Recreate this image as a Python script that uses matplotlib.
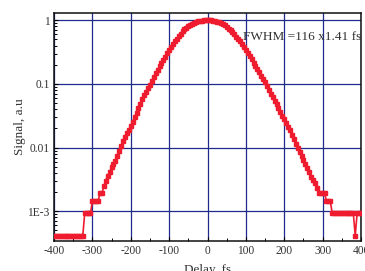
import numpy as np
import matplotlib
matplotlib.use('Agg')
import matplotlib.pyplot as plt
from matplotlib.ticker import FixedLocator, FixedFormatter, LogLocator, MultipleLocator

plt.rcParams['font.family'] = ['Liberation Serif', 'DejaVu Serif']
plt.rcParams['axes.unicode_minus'] = False

# delay, fs (5 fs steps from -400 to 400)
delay = np.arange(-400, 401, 5)

# log10 of the signal
log_signal = [
    -3.38, -3.38, -3.38, -3.38, -3.38, -3.38, -3.38, -3.38,   # -400 .. -365
    -3.38, -3.38, -3.38, -3.38, -3.38, -3.38, -3.38, -3.38,   # -360 .. -325
    -3.03, -3.03, -3.03, -3.03,                               # -320 .. -305
    -2.84, -2.84, -2.84, -2.84,                               # -300 .. -285
    -2.71, -2.71,                                             # -280, -275
    -2.61, -2.52, -2.44, -2.38, -2.31, -2.26, -2.21, -2.13,   # -270 .. -235
    -2.05, -1.97, -1.90, -1.83, -1.77, -1.72, -1.66, -1.59,   # -230 .. -195
    -1.52, -1.45, -1.38, -1.31, -1.24, -1.18, -1.12, -1.06,   # -190 .. -155
    -1.01, -0.95, -0.89, -0.835, -0.78, -0.72, -0.67, -0.62,  # -150 .. -115
    -0.57, -0.52, -0.47, -0.42, -0.37, -0.33, -0.29, -0.25,   # -110 .. -75
    -0.21, -0.175, -0.145, -0.115, -0.09, -0.07, -0.052, -0.037,  # -70 .. -35
    -0.025, -0.016, -0.010, -0.005, -0.002, -0.0005,          # -30 .. -5
    0.0,                                                      # 0
    -0.001, -0.003, -0.007, -0.013, -0.021, -0.031, -0.045, -0.062,  # 5 .. 40
    -0.082, -0.105, -0.13, -0.157, -0.187, -0.22, -0.255, -0.29,     # 45 .. 80
    -0.33, -0.37, -0.415, -0.46, -0.51, -0.56, -0.615, -0.67,        # 85 .. 120
    -0.72, -0.77, -0.82, -0.87, -0.92, -0.97, -1.03, -1.09,          # 125 .. 160
    -1.15, -1.21, -1.27, -1.32, -1.38, -1.44, -1.50, -1.55,          # 165 .. 200
    -1.61, -1.67, -1.73, -1.80, -1.87, -1.94, -2.00, -2.07,          # 205 .. 240
    -2.13, -2.19, -2.25, -2.32, -2.39, -2.46, -2.51, -2.56,          # 245 .. 280
    -2.64, -2.71, -2.71, -2.71, -2.71,                               # 285 .. 305
    -2.84, -2.84, -2.84,                                             # 310 .. 320
    -3.03, -3.03, -3.03, -3.03, -3.03, -3.03, -3.03, -3.03,          # 325 .. 360
    -3.03, -3.03, -3.03, -3.03, -3.38, -3.03, -3.03, -3.03,          # 365 .. 400
]
signal = 10 ** np.array(log_signal)

y_ticks = [1e-3, 1e-2, 1e-1, 1]
y_tick_labels = ['1E-3', '0.01', '0.1', '1']
note = 'FWHM =116 x1.41 fs'

fig = plt.figure(figsize=(3.65, 2.71), dpi=100)
ax = fig.add_axes([0.148, 0.111, 0.841, 0.841])

ax.plot(delay, signal, color='#ee1c2e', lw=1.2, marker='s', ms=2.5,
        mec='#ee1c2e', mfc='#ee1c2e', zorder=3)

ax.set_yscale('log')
ax.set_xlim(-400, 400)
ax.set_ylim(3.43e-4, 1.30)

ax.xaxis.set_major_locator(MultipleLocator(100))
ax.xaxis.set_minor_locator(MultipleLocator(50))
ax.yaxis.set_major_locator(FixedLocator(y_ticks))
ax.yaxis.set_major_formatter(FixedFormatter(y_tick_labels))
ax.yaxis.set_minor_locator(LogLocator(base=10, subs=np.arange(2, 10)))

ax.grid(True, which='major', color='#1f2a8c', lw=0.9)
ax.tick_params(which='both', direction='in', labelsize=8.3, colors='black',
               labelcolor='#333333', top=False, right=False)
ax.tick_params(which='major', length=3, width=0.8, pad=3)
ax.tick_params(which='minor', length=2, width=0.7)
for s in ax.spines.values():
    s.set_linewidth(1.1)
    s.set_color('#111111')

ax.text(92, 0.49, note, fontsize=9.5, color='#333333', zorder=4)

ax.set_ylabel('Signal, a.u', fontsize=9.5, color='#333333', labelpad=1)
ax.set_xlabel('Delay, fs', fontsize=9.5, color='#333333', labelpad=5)

fig.savefig('out.png', dpi=100)
